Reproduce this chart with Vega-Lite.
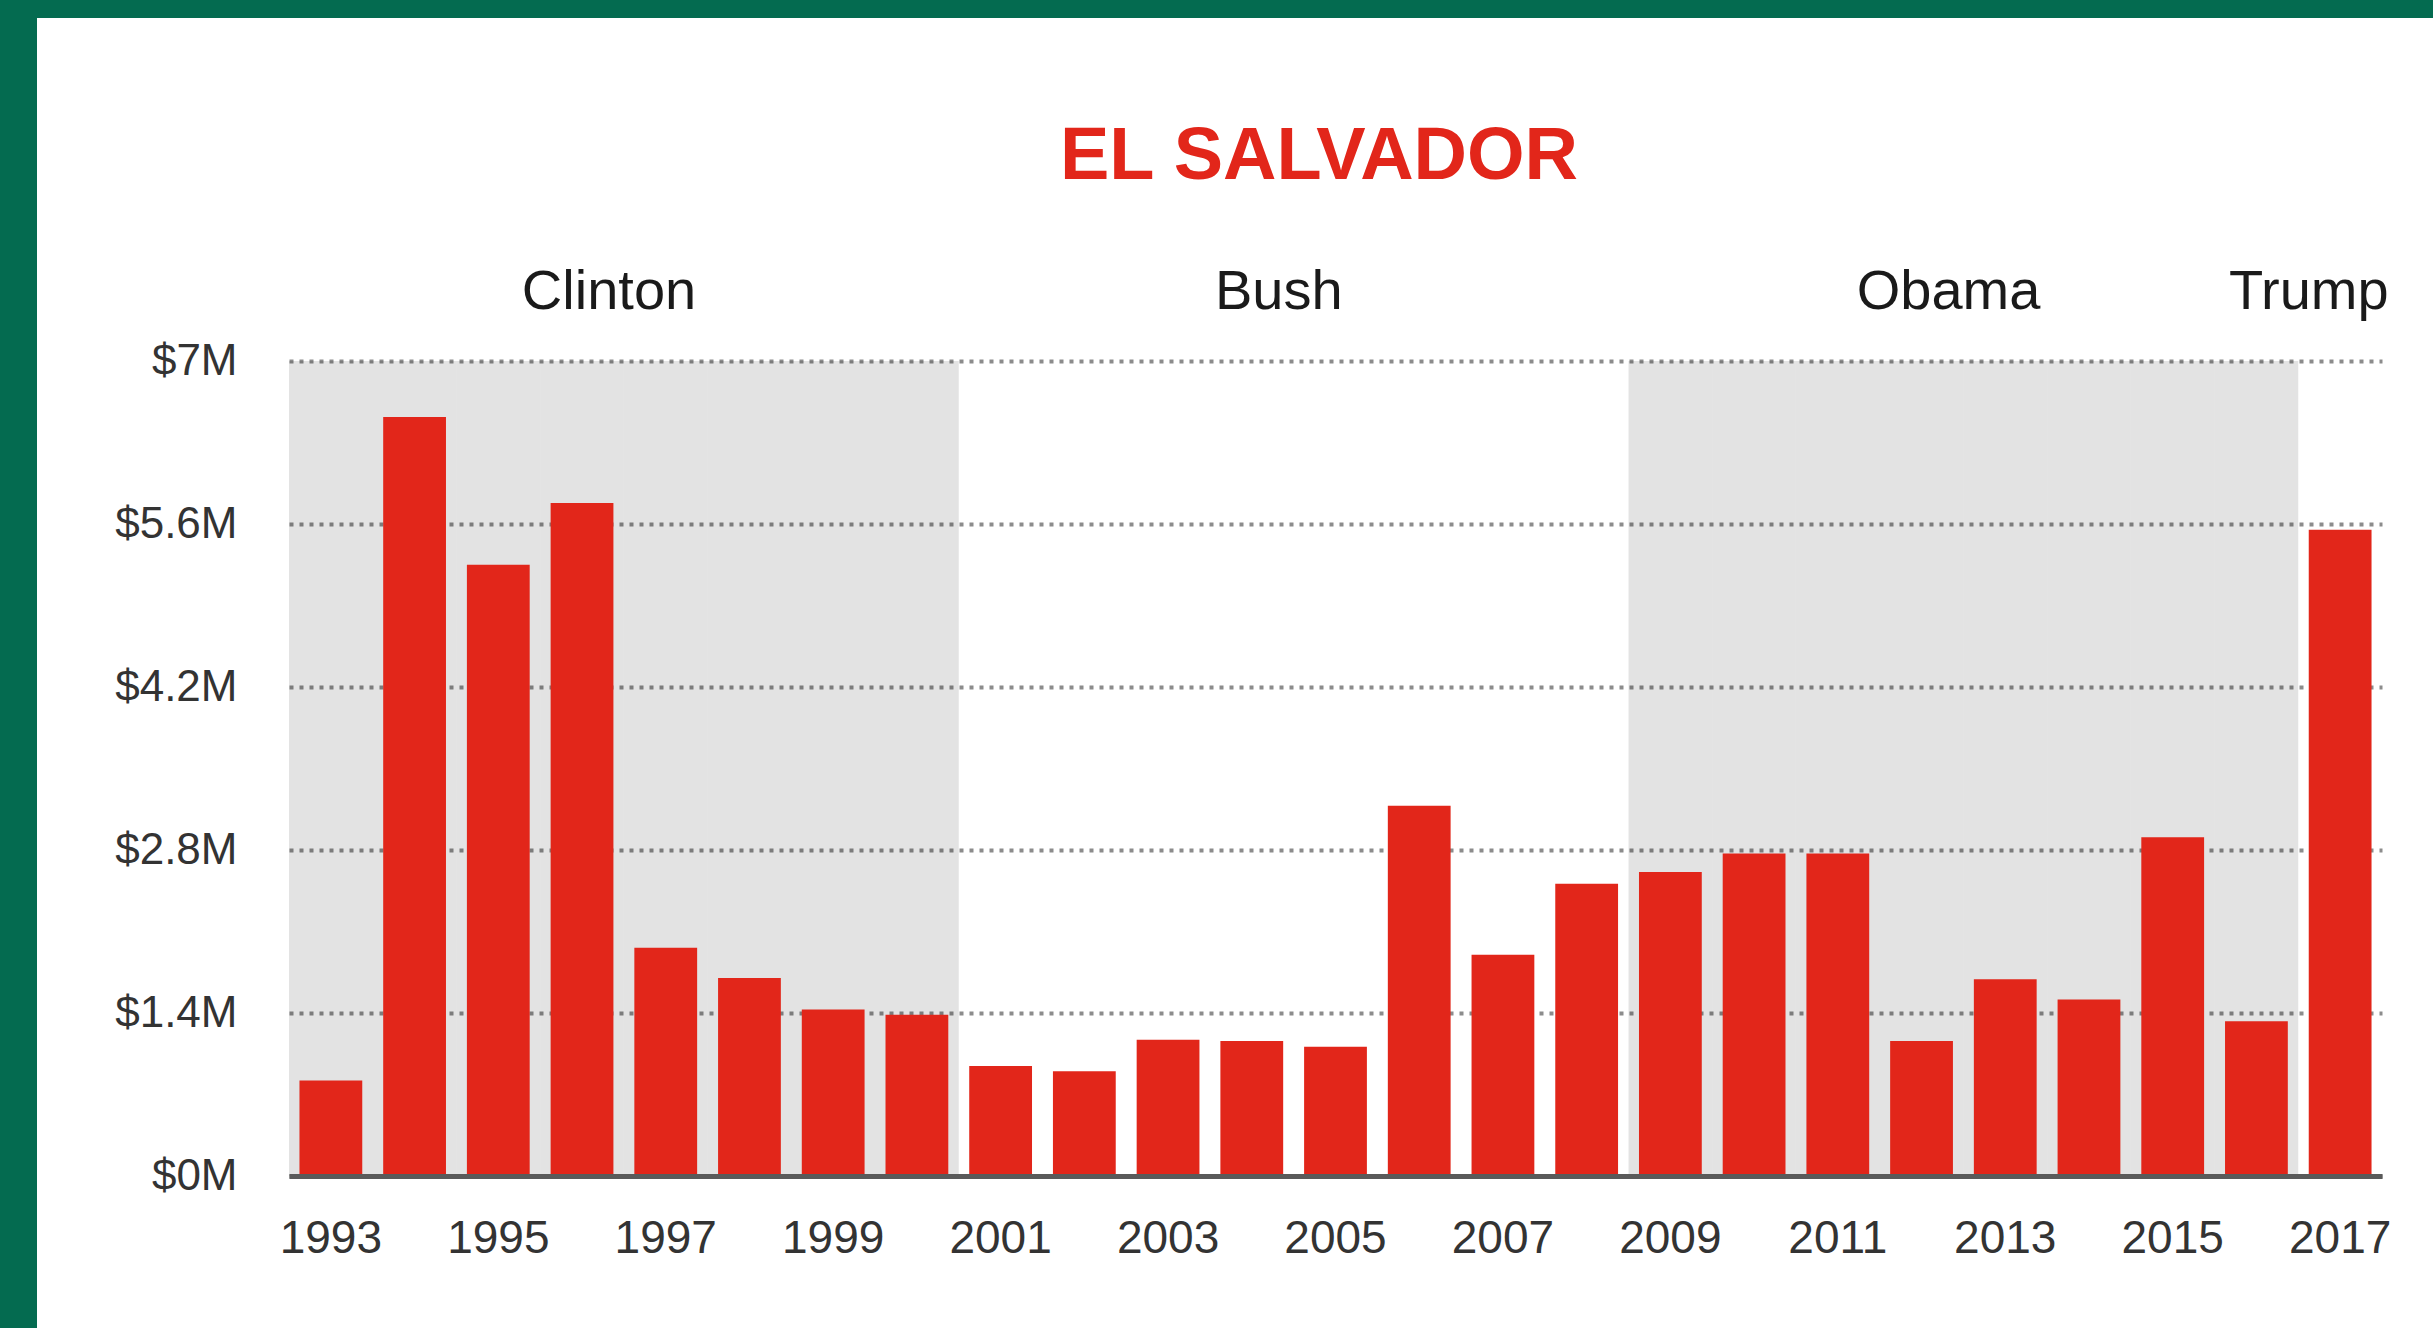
{
  "$schema": "https://vega.github.io/schema/vega-lite/v6.json",
  "width": 2396,
  "height": 1310,
  "autosize": {"type": "none"},
  "padding": {"left": 37, "top": 18, "right": 0, "bottom": 0},
  "background": "#046b50",
  "config": {
    "view": {"fill": "#ffffff", "stroke": null},
    "font": "Liberation Sans"
  },
  "title": {
    "text": "EL SALVADOR",
    "color": "#e2261a",
    "fontSize": 74,
    "fontWeight": "bold",
    "font": "Liberation Sans",
    "anchor": "middle",
    "frame": "group",
    "dx": 84,
    "offset": -177
  },
  "datasets": {
    "aid": [
      {"year": 1993, "value": 0.82, "admin": "Clinton"},
      {"year": 1994, "value": 6.52, "admin": "Clinton"},
      {"year": 1995, "value": 5.25, "admin": "Clinton"},
      {"year": 1996, "value": 5.78, "admin": "Clinton"},
      {"year": 1997, "value": 1.96, "admin": "Clinton"},
      {"year": 1998, "value": 1.70, "admin": "Clinton"},
      {"year": 1999, "value": 1.43, "admin": "Clinton"},
      {"year": 2000, "value": 1.385, "admin": "Clinton"},
      {"year": 2001, "value": 0.945, "admin": "Bush"},
      {"year": 2002, "value": 0.90, "admin": "Bush"},
      {"year": 2003, "value": 1.17, "admin": "Bush"},
      {"year": 2004, "value": 1.16, "admin": "Bush"},
      {"year": 2005, "value": 1.11, "admin": "Bush"},
      {"year": 2006, "value": 3.18, "admin": "Bush"},
      {"year": 2007, "value": 1.90, "admin": "Bush"},
      {"year": 2008, "value": 2.51, "admin": "Bush"},
      {"year": 2009, "value": 2.61, "admin": "Obama"},
      {"year": 2010, "value": 2.77, "admin": "Obama"},
      {"year": 2011, "value": 2.77, "admin": "Obama"},
      {"year": 2012, "value": 1.16, "admin": "Obama"},
      {"year": 2013, "value": 1.69, "admin": "Obama"},
      {"year": 2014, "value": 1.515, "admin": "Obama"},
      {"year": 2015, "value": 2.91, "admin": "Obama"},
      {"year": 2016, "value": 1.33, "admin": "Obama"},
      {"year": 2017, "value": 5.55, "admin": "Trump"}
    ],
    "admins": [
      {"president": "Clinton", "year": 1996},
      {"president": "Bush", "year": 2004},
      {"president": "Obama", "year": 2012},
      {"president": "Trump", "year": 2017}
    ]
  },
  "layer": [
    {
      "data": {"name": "aid"},
      "transform": [{"filter": "datum.admin === 'Clinton' || datum.admin === 'Obama'"}],
      "mark": {"type": "rect", "width": {"band": 1.3334}, "fill": "#000000", "fillOpacity": 0.11},
      "encoding": {
        "x": {"field": "year", "type": "ordinal", "scale": {"type": "band", "range": [252, 2345], "paddingInner": 0.25, "paddingOuter": 0.125}, "axis": {
            "orient": "bottom",
            "offset": -152,
            "title": null,
            "values": [1993, 1995, 1997, 1999, 2001, 2003, 2005, 2007, 2009, 2011, 2013, 2015, 2017],
            "labelAngle": 0,
            "labelFontSize": 46,
            "labelColor": "#333333",
            "labelPadding": 40,
            "ticks": false,
            "tickSize": 0,
            "domain": true,
            "domainColor": "#5a5a5a",
            "domainWidth": 5,
            "grid": false,
            "labelOverlap": false,
            "zindex": 1
          }},
        "y": {"datum": 7, "type": "quantitative", "scale": {"domain": [0, 7], "range": [1158, 343], "nice": false, "zero": true}, "axis": {
            "orient": "left",
            "offset": -252,
            "title": null,
            "values": [0, 1.4, 2.8, 4.2, 5.6, 7],
            "labelExpr": "'$' + format(datum.value, '.1~f') + 'M'",
            "domain": false,
            "ticks": false,
            "tickSize": 0,
            "grid": true,
            "gridColor": "#8c8c8c",
            "gridDash": [4, 6],
            "gridWidth": 4,
            "labelFontSize": 44,
            "labelColor": "#333333",
            "labelPadding": 52,
            "labelBaseline": "middle"
          }},
        "y2": {"datum": 0}
      }
    },
    {
      "data": {"name": "aid"},
      "mark": {"type": "bar", "color": "#e2261a"},
      "encoding": {
        "x": {"field": "year", "type": "ordinal"},
        "y": {"field": "value", "type": "quantitative"}
      }
    },
    {
      "data": {"name": "admins"},
      "transform": [{"filter": "datum.president !== 'Trump'"}],
      "mark": {"type": "text", "fontSize": 56, "color": "#1a1a1a", "baseline": "alphabetic", "align": "center"},
      "encoding": {
        "x": {"field": "year", "type": "ordinal", "bandPosition": 0.93},
        "y": {"datum": 7.447, "type": "quantitative"},
        "text": {"field": "president"}
      }
    },
    {
      "data": {"name": "admins"},
      "transform": [{"filter": "datum.president === 'Trump'"}],
      "mark": {"type": "text", "fontSize": 56, "color": "#1a1a1a", "baseline": "alphabetic", "align": "center"},
      "encoding": {
        "x": {"field": "year", "type": "ordinal", "bandPosition": 0},
        "y": {"datum": 7.447, "type": "quantitative"},
        "text": {"field": "president"}
      }
    }
  ]
}
